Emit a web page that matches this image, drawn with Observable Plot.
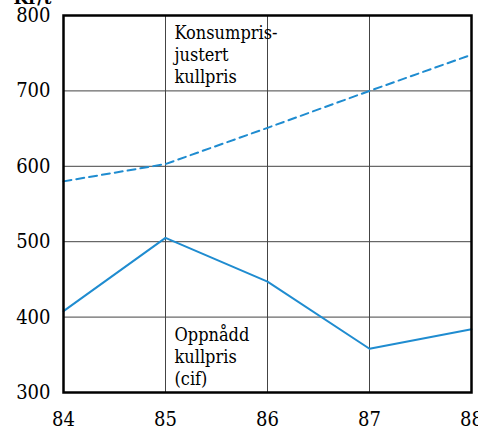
<!DOCTYPE html>
<html>
<head>
<meta charset="utf-8">
<script src="https://cdn.jsdelivr.net/npm/d3@7"></script>
<script src="https://cdn.jsdelivr.net/npm/@observablehq/plot@0.6"></script>
<style>
  html, body { margin: 0; padding: 0; background: white; }
  #chart svg text { font-stretch: condensed; }
</style>
</head>
<body>
<div id="chart"></div>
<script>
// Years (x axis)
const years = [84, 85, 86, 87, 88];
// Konsumprisjustert kullpris (dashed)
const adjustedPrice = [580, 603, 651, 700, 748];
// Oppnådd kullpris (cif) (solid)
const achievedPrice = [408, 505, 447, 358, 384];
// Tick labels
const xTicks = [84, 85, 86, 87, 88];
const yTicks = [300, 400, 500, 600, 700, 800];
// Series labels
const labelTexts = ["Konsumpris-\njustert\nkullpris", "Oppnådd\nkullpris\n(cif)"];
const labelX = [85, 85];
const labelY = [800, 400];
const unitLabel = "Kr/t";

const adjusted = years.map((y, i) => ({year: y, value: adjustedPrice[i]}));
const achieved = years.map((y, i) => ({year: y, value: achievedPrice[i]}));
const labels = labelTexts.map((t, i) => ({text: t, x: labelX[i], y: labelY[i]}));

const lineColor = "#1f8cd0";
const serif = "'DejaVu Serif Condensed', 'DejaVu Serif', serif";

const chart = Plot.plot({
  width: 478,
  height: 430,
  marginTop: 15,
  marginBottom: 38,
  marginLeft: 63,
  marginRight: 7,
  style: "font-family: 'DejaVu Serif Condensed', 'DejaVu Serif', serif; background: white;",
  x: {domain: [84, 88], ticks: xTicks},
  y: {domain: [300, 800], ticks: yTicks},
  marks: [
    Plot.gridX(xTicks, {stroke: "#444", strokeOpacity: 1, strokeWidth: 1}),
    Plot.gridY(yTicks, {stroke: "#444", strokeOpacity: 1, strokeWidth: 1}),
    Plot.axisX({ticks: xTicks, tickSize: 0, tickPadding: 19, fontSize: 20, fontFamily: serif, label: null, tickFormat: d => String(d)}),
    Plot.axisY({ticks: yTicks, tickSize: 0, tickPadding: 13, fontSize: 20, fontFamily: serif, label: null, tickFormat: d => String(d)}),
    Plot.line(adjusted, {x: "year", y: "value", stroke: lineColor, strokeWidth: 2, strokeDasharray: "8,5"}),
    Plot.line(achieved, {x: "year", y: "value", stroke: lineColor, strokeWidth: 2}),
    Plot.frame({stroke: "black", strokeWidth: 2.5}),
    Plot.text(labels, {x: "x", y: "y", text: "text", textAnchor: "start", lineAnchor: "top", dx: 9, dy: 8, fontSize: 18, fontFamily: serif, lineHeight: 1.23, fill: "black"}),
    Plot.text([unitLabel], {frameAnchor: "top-left", text: d => d, dx: -50, dy: -18, textAnchor: "start", lineAnchor: "middle", fontSize: 19, fontFamily: serif, fontWeight: "bold", fill: "black"})
  ]
});
document.getElementById("chart").append(chart);
</script>
</body>
</html>
